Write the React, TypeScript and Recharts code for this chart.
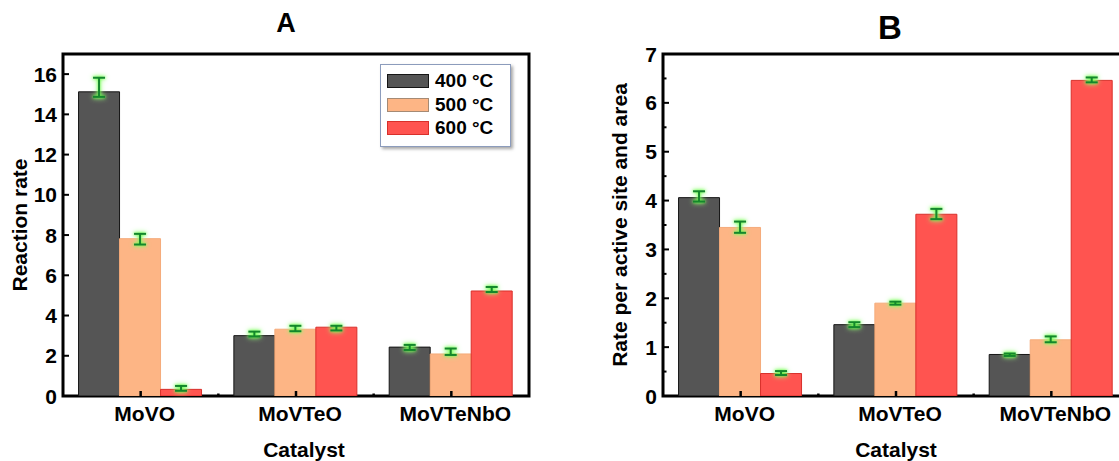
import React from "react";
import {
  BarChart,
  Bar,
  XAxis,
  YAxis,
  ErrorBar,
  Legend,
  ReferenceArea,
} from "recharts";

const categories = ["MoVO", "MoVTeO", "MoVTeNbO"];
const seriesNames = ["400 °C", "500 °C", "600 °C"];

// panel A: reaction rate
const rateA400 = [15.12, 3.0, 2.43];
const rateA500 = [7.82, 3.32, 2.09];
const rateA600 = [0.33, 3.42, 5.22];
const errA400 = [[0.25, 0.7], [0.04, 0.2], [0.14, 0.11]];
const errA500 = [[0.29, 0.24], [0.1, 0.17], [0.05, 0.27]];
const errA600 = [[0.07, 0.17], [0.16, 0.07], [0.05, 0.2]];

// panel B: rate per active site and area
const rateB400 = [4.06, 1.46, 0.85];
const rateB500 = [3.45, 1.9, 1.15];
const rateB600 = [0.46, 3.72, 6.46];
const errB400 = [[0.08, 0.13], [0.05, 0.05], [0.03, 0.02]];
const errB500 = [[0.11, 0.12], [0.03, 0.03], [0.05, 0.07]];
const errB600 = [[0.03, 0.05], [0.1, 0.11], [0.04, 0.06]];

const yTicksA = [0, 1, 2, 3, 4, 5, 6, 7, 8, 9, 10, 11, 12, 13, 14, 15, 16];
const yLabelsA = [0, 2, 4, 6, 8, 10, 12, 14, 16];
const yTicksB = [0, 0.5, 1, 1.5, 2, 2.5, 3, 3.5, 4, 4.5, 5, 5.5, 6, 6.5, 7];
const yLabelsB = [0, 1, 2, 3, 4, 5, 6, 7];

const COLORS = ["#555555", "#fdb585", "#ff5450"];
const STROKES = ["#151515", "#f5ab7a", "#d8302b"];
const ERR = "#14872c";
const FONT = "'Liberation Sans', Arial, sans-serif";

function buildRows(v400: number[], v500: number[], v600: number[], e400: number[][], e500: number[][], e600: number[][]) {
  return categories.map((c, i) => ({
    cat: c,
    s400: v400[i],
    s500: v500[i],
    s600: v600[i],
    e400: e400[i],
    e500: e500[i],
    e600: e600[i],
  }));
}

const dataA = buildRows(rateA400, rateA500, rateA600, errA400, errA500, errA600);
const dataB = buildRows(rateB400, rateB500, rateB600, errB400, errB500, errB600);

function makeYTick(labels: number[]) {
  // eslint-disable-next-line @typescript-eslint/no-explicit-any
  return (props: any) => {
    const { x, y, payload } = props;
    const major = labels.includes(payload.value);
    return (
      <g>
        <line x1={x} x2={x + (major ? 6 : 3.5)} y1={y} y2={y} stroke="#000" strokeWidth={2} />
        {major && (
          <text x={x - 6} y={y} dy="0.36em" textAnchor="end" fontSize={21} fontWeight="bold" fill="#000" fontFamily={FONT}>
            {payload.value}
          </text>
        )}
      </g>
    );
  };
}

// eslint-disable-next-line @typescript-eslint/no-explicit-any
function XTick(props: any) {
  const { x, y, payload } = props;
  const half = payload.offset || 77.5;
  return (
    <g>
      <line x1={x} x2={x} y1={y} y2={y - 5} stroke="#000" strokeWidth={2.5} />
      {payload.index > 0 && <line x1={x - half} x2={x - half} y1={y} y2={y - 2.5} stroke="#000" strokeWidth={2.5} />}
      <text x={x + 4} y={y + 25} textAnchor="middle" fontSize={21} fontWeight="bold" fill="#000" fontFamily={FONT}>
        {payload.value}
      </text>
    </g>
  );
}

// eslint-disable-next-line @typescript-eslint/no-explicit-any
function LegendBox(props: any) {
  const { payload } = props;
  return (
    <div
      style={{
        width: 129,
        height: 81,
        border: "1px solid #8c9cbc",
        background: "#fff",
        boxShadow: "2px 2px 3px rgba(0,0,0,0.35)",
        position: "relative",
        fontFamily: FONT,
      }}
    >
      {(payload || []).map((p: { value: string; color: string }, i: number) => (
        <div key={p.value} style={{ position: "absolute", left: 6, top: 9 + i * 23.5, display: "flex", alignItems: "center" }}>
          <div style={{ width: 40, height: 12, background: COLORS[i], border: `1px solid ${i === 1 ? "#a58a74" : STROKES[i]}` }} />
          <span style={{ marginLeft: 6, fontSize: 19, fontWeight: "bold", color: "#000", lineHeight: "14px" }}>{p.value}</span>
        </div>
      ))}
    </div>
  );
}

interface PanelProps {
  data: typeof dataA;
  max: number;
  ticks: number[];
  labels: number[];
  yTitle: string;
  titleDx: number;
  titleY: number;
  showLegend?: boolean;
}

function Panel({ data, max, ticks, labels, yTitle, titleDx, titleY, showLegend }: PanelProps) {
  const keys = ["s400", "s500", "s600"];
  const errs = ["e400", "e500", "e600"];
  return (
    <BarChart
      width={560}
      height={461}
      data={data}
      margin={{ top: 54, right: 31, bottom: 35, left: 0 }}
      barCategoryGap="10%"
      barGap={0}
    >
      <XAxis
        dataKey="cat"
        axisLine={false}
        tickLine={false}
        tickSize={0}
        tickMargin={0}
        height={30}
        interval={0}
        tick={<XTick />}
        label={{
          position: "bottom",
          // eslint-disable-next-line @typescript-eslint/no-explicit-any
          content: (p: any) => {
            const vb = p.viewBox;
            return (
              <text x={vb.x + vb.width / 2 + titleDx} y={titleY} textAnchor="middle" fontSize={21} fontWeight="bold" fill="#000" fontFamily={FONT}>
                Catalyst
              </text>
            );
          },
        }}
      />
      <YAxis
        domain={[0, max]}
        ticks={ticks}
        allowDataOverflow
        axisLine={false}
        tickLine={false}
        tickSize={0}
        tickMargin={0}
        width={63}
        tick={makeYTick(labels)}
        label={{
          position: "left",
          // eslint-disable-next-line @typescript-eslint/no-explicit-any
          content: (p: any) => {
            const vb = p.viewBox;
            const cx = vb.x + 27;
            const cy = vb.y + vb.height / 2;
            return (
              <text x={cx} y={cy} transform={`rotate(-90 ${cx} ${cy})`} textAnchor="middle" fontSize={21} fontWeight="bold" fill="#000" fontFamily={FONT}>
                {yTitle}
              </text>
            );
          },
        }}
      />
      {keys.map((k, i) => (
        <Bar key={k} dataKey={k} name={seriesNames[i]} fill={COLORS[i]} stroke={STROKES[i]} strokeWidth={1} isAnimationActive={false}>
          <ErrorBar dataKey={errs[i]} width={6} strokeWidth={2} stroke={ERR} direction="y" isAnimationActive={false} />
        </Bar>
      ))}
      <ReferenceArea y1={0} y2={max} fill="none" stroke="#000" strokeWidth={3} ifOverflow="visible" />
      {showLegend && (
        <Legend
          layout="vertical"
          align="center"
          verticalAlign="middle"
          content={<LegendBox />}
          wrapperStyle={{ left: 380, top: 64, width: 131, height: 83 }}
        />
      )}
    </BarChart>
  );
}

export default function App() {
  return (
    <div style={{ position: "fixed", left: 0, top: 0, width: 1119, height: 461, overflow: "hidden", background: "#fff", fontFamily: FONT }}>
      <style>{`.recharts-errorBar { filter: drop-shadow(0 0 1.5px #5cff3c) drop-shadow(0 0 2.5px #9dff80); }`}</style>
      <div style={{ position: "absolute", left: 0, top: 0 }}>
        <Panel data={dataA} max={17} ticks={yTicksA} labels={yLabelsA} yTitle="Reaction rate" titleDx={8} titleY={457} showLegend />
      </div>
      <div style={{ position: "absolute", left: 600, top: 0 }}>
        <Panel data={dataB} max={7} ticks={yTicksB} labels={yLabelsB} yTitle="Rate per active site and area" titleDx={0} titleY={457} />
      </div>
      <div style={{ position: "absolute", left: 286, top: 33, transform: "translate(-50%, -100%)", fontSize: 27, fontWeight: "bold", lineHeight: "20px" }}>
        A
      </div>
      <div style={{ position: "absolute", left: 890, top: 40, transform: "translate(-50%, -100%)", fontSize: 33, fontWeight: "bold", lineHeight: "25px" }}>
        B
      </div>
    </div>
  );
}
